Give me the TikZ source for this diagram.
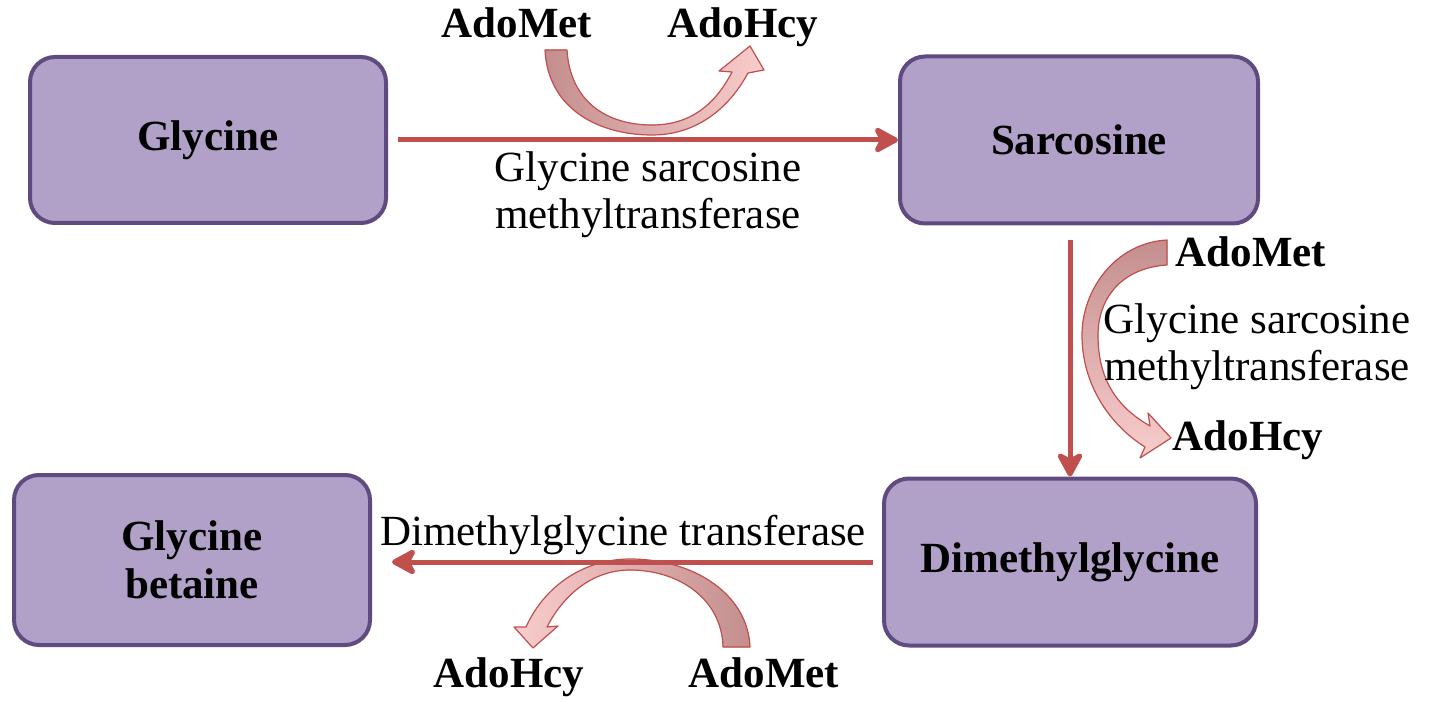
\documentclass[tikz,border=0pt]{standalone}
\usepackage{fontspec}
\setmainfont{Liberation Serif}
\usetikzlibrary{arrows.meta}
\definecolor{boxfill}{HTML}{B1A0C7}
\definecolor{boxline}{HTML}{5F4B80}
\definecolor{arrred}{HTML}{C0504D}
\definecolor{fatdark}{HTML}{C48E8E}
\definecolor{fatlight}{HTML}{F9CDCD}
\tikzset{
  compound/.style={draw=boxline, line width=4pt, fill=boxfill, rounded corners=25pt,
    font=\fontsize{43}{48}\selectfont\bfseries, align=center, inner sep=0pt},
  mainarrow/.style={draw=arrred, line width=5pt, -{Stealth[length=29pt,width=31pt,inset=8pt,round]}},
  fatarrow/.style={draw=arrred, line width=1.2pt, line join=round},
  cofactor/.style={font=\fontsize{43}{48}\selectfont\bfseries, anchor=base, inner sep=0pt},
  enzyme/.style={font=\fontsize{43}{47}\selectfont, align=center, anchor=north, inner sep=0pt},
}
\begin{document}
\begin{tikzpicture}[x=1pt,y=-1pt]
\useasboundingbox (0,0) rectangle (1433,703);
% compounds
\node[compound, minimum width=356pt, minimum height=166pt] (gly) at (208,140) {Glycine};
\node[compound, minimum width=358pt, minimum height=167pt] (sar) at (1079,140) {Sarcosine};
\node[compound, minimum width=372pt, minimum height=167pt] (dmg) at (1070,562) {Dimethylglycine};
\node[compound, minimum width=356pt, minimum height=170pt] (gb) at (192,560) {Glycine\\betaine};

% fat curved co-substrate arrows
\fill[left color=fatdark, right color=fatlight] (545,50) .. controls (548,110) and (600,135) .. (652,135)
  .. controls (695,135) and (728,110) .. (748,73) -- (764,70) -- (750,46) -- (719,71) -- (732,72)
  .. controls (715,105) and (690,125) .. (652,125) .. controls (605,125) and (570,100) .. (567,50) -- cycle;
\draw[fatarrow] (545,50) .. controls (548,110) and (600,135) .. (652,135)
  .. controls (695,135) and (728,110) .. (748,73) -- (764,70) -- (750,46) -- (719,71) -- (732,72)
  .. controls (715,105) and (690,125) .. (652,125) .. controls (605,125) and (570,100) .. (567,50) -- cycle;

\fill[top color=fatdark, bottom color=fatlight] (1167,240) .. controls (1115,243) and (1082,290) .. (1082,335)
  .. controls (1082,385) and (1110,425) .. (1145,447) -- (1140,458) -- (1171,438) -- (1148,413) -- (1150,426)
  .. controls (1113,405) and (1098,375) .. (1098,335) .. controls (1098,300) and (1120,268) .. (1167,265) -- cycle;
\draw[fatarrow] (1167,240) .. controls (1115,243) and (1082,290) .. (1082,335)
  .. controls (1082,385) and (1110,425) .. (1145,447) -- (1140,458) -- (1171,438) -- (1148,413) -- (1150,426)
  .. controls (1113,405) and (1098,375) .. (1098,335) .. controls (1098,300) and (1120,268) .. (1167,265) -- cycle;

\fill[right color=fatdark, left color=fatlight] (750,647) .. controls (748,595) and (695,559) .. (630,559)
  .. controls (585,559) and (545,585) .. (526,627) -- (514,627) -- (533,648) -- (558,626) -- (547,627)
  .. controls (565,592) and (595,570) .. (630,570) .. controls (680,570) and (722,600) .. (723,647) -- cycle;
\draw[fatarrow] (750,647) .. controls (748,595) and (695,559) .. (630,559)
  .. controls (585,559) and (545,585) .. (526,627) -- (514,627) -- (533,648) -- (558,626) -- (547,627)
  .. controls (565,592) and (595,570) .. (630,570) .. controls (680,570) and (722,600) .. (723,647) -- cycle;

% main reaction arrows
\draw[mainarrow, shorten <=10pt] (gly.east) -- (sar.west);
\draw[mainarrow, shorten <=15pt] (sar.south -| dmg.north) -- (dmg.north);
\draw[mainarrow, shorten <=9pt, shorten >=20pt] (dmg.west) -- (gb.east |- dmg.west);

% cofactor labels
\node[cofactor] (am1) at (517,38) {AdoMet};
\node[cofactor] (ah1) at (743,38) {AdoHcy};
\node[cofactor] (am2) at (1251,267) {AdoMet};
\node[cofactor] (ah2) at (1248,450) {AdoHcy};
\node[cofactor] (ah3) at (509,687) {AdoHcy};
\node[cofactor] (am3) at (764,687) {AdoMet};

% enzyme labels
\node[enzyme] (e1) at (648,151) {Glycine sarcosine\\methyltransferase};
\node[enzyme] (e2) at (1257,303) {Glycine sarcosine\\methyltransferase};
\node[font=\fontsize{43}{48}\selectfont, anchor=base, inner sep=0pt] (e3) at (623,545) {Dimethylglycine transferase};
\end{tikzpicture}
\end{document}
